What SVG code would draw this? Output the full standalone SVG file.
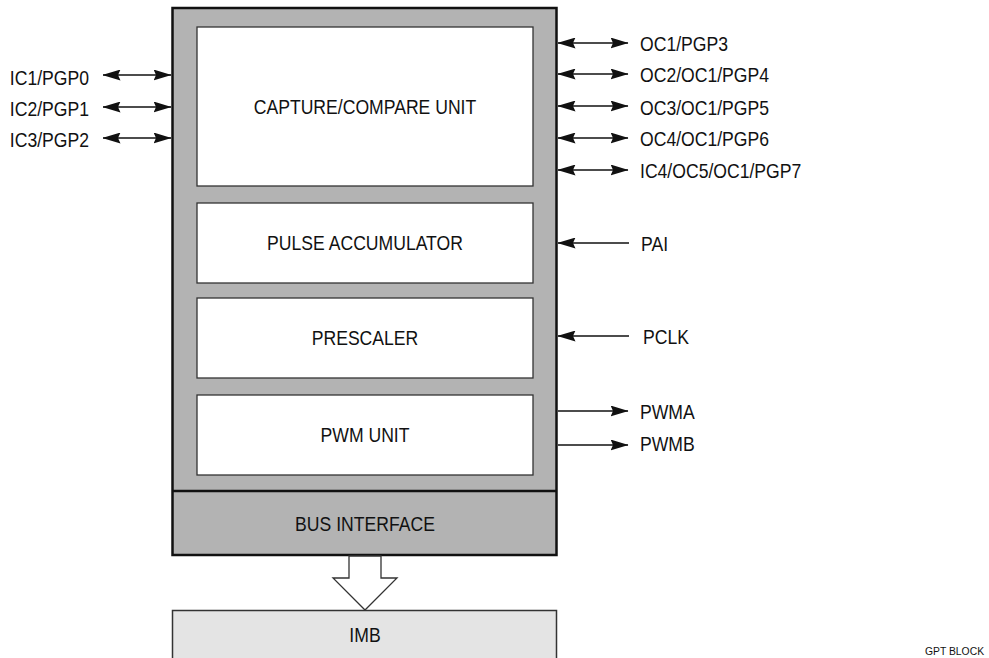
<svg xmlns="http://www.w3.org/2000/svg" width="989" height="658" viewBox="0 0 989 658">
<style>
  text { font-family: "Liberation Sans", Arial, sans-serif; font-size: 20px; fill: #111; }
  .c { text-anchor: middle; }
  .e { text-anchor: end; }
  .small { font-size: 11.5px; }
  .inner { fill: #fff; stroke: #333; stroke-width: 1.3; }
  .wire { stroke: #111; stroke-width: 1.4; fill: none; }
</style>
<defs>
  <marker id="ah" viewBox="0 0 18 11" refX="17.5" refY="5.5" markerWidth="18" markerHeight="11" markerUnits="userSpaceOnUse" orient="auto-start-reverse">
    <path d="M0,0 L18,5.5 L0,11 L2.5,5.5 z" fill="#111"/>
  </marker>
</defs>

<g id="gpt">
  <rect x="172.5" y="8" width="384" height="547" fill="#b3b3b3" stroke="#111" stroke-width="2.5"/>
</g>
<g id="bus-interface">
  <line x1="172.5" y1="491" x2="556.5" y2="491" stroke="#111" stroke-width="2.5"/>
  <text class="c" transform="translate(365,531) scale(0.88,1)">BUS INTERFACE</text>
</g>
<g id="capture-compare">
  <rect class="inner" x="197" y="27" width="336" height="159"/>
  <text class="c" transform="translate(365,114) scale(0.88,1)">CAPTURE/COMPARE UNIT</text>
</g>
<g id="pulse-accumulator">
  <rect class="inner" x="197" y="203" width="336" height="80"/>
  <text class="c" transform="translate(365,250) scale(0.88,1)">PULSE ACCUMULATOR</text>
</g>
<g id="prescaler">
  <rect class="inner" x="197" y="298" width="336" height="80"/>
  <text class="c" transform="translate(365,345) scale(0.88,1)">PRESCALER</text>
</g>
<g id="pwm-unit">
  <rect class="inner" x="197" y="395" width="336" height="80"/>
  <text class="c" transform="translate(365,442) scale(0.88,1)">PWM UNIT</text>
</g>
<g id="imb">
  <rect x="172.5" y="610.5" width="384" height="60" fill="#e4e4e4" stroke="#333" stroke-width="1.5"/>
  <text class="c" transform="translate(365,642) scale(0.88,1)">IMB</text>
</g>

<g id="connectors">
  <polygon points="349,556 349,578 333,578 365,610 397,578 381,578 381,556" fill="#fff" stroke="#333" stroke-width="1.3"/>
  <line class="wire" x1="103" y1="75" x2="171" y2="75" marker-start="url(#ah)" marker-end="url(#ah)"/>
  <line class="wire" x1="103" y1="107" x2="171" y2="107" marker-start="url(#ah)" marker-end="url(#ah)"/>
  <line class="wire" x1="103" y1="138" x2="171" y2="138" marker-start="url(#ah)" marker-end="url(#ah)"/>
  <line class="wire" x1="558" y1="43" x2="628" y2="43" marker-start="url(#ah)" marker-end="url(#ah)"/>
  <line class="wire" x1="558" y1="74" x2="628" y2="74" marker-start="url(#ah)" marker-end="url(#ah)"/>
  <line class="wire" x1="558" y1="106" x2="628" y2="106" marker-start="url(#ah)" marker-end="url(#ah)"/>
  <line class="wire" x1="558" y1="138" x2="628" y2="138" marker-start="url(#ah)" marker-end="url(#ah)"/>
  <line class="wire" x1="558" y1="170" x2="628" y2="170" marker-start="url(#ah)" marker-end="url(#ah)"/>
  <line class="wire" x1="629" y1="243" x2="558" y2="243" marker-end="url(#ah)"/>
  <line class="wire" x1="629" y1="336" x2="558" y2="336" marker-end="url(#ah)"/>
  <line class="wire" x1="558" y1="411" x2="628" y2="411" marker-end="url(#ah)"/>
  <line class="wire" x1="558" y1="445" x2="628" y2="445" marker-end="url(#ah)"/>
</g>

<g id="labels">
  <text class="e" transform="translate(89,85) scale(0.88,1)">IC1/PGP0</text>
  <text class="e" transform="translate(89,116) scale(0.88,1)">IC2/PGP1</text>
  <text class="e" transform="translate(89,147) scale(0.88,1)">IC3/PGP2</text>
  <text transform="translate(640,51) scale(0.88,1)">OC1/PGP3</text>
  <text transform="translate(640,82) scale(0.88,1)">OC2/OC1/PGP4</text>
  <text transform="translate(640,115) scale(0.88,1)">OC3/OC1/PGP5</text>
  <text transform="translate(640,146) scale(0.88,1)">OC4/OC1/PGP6</text>
  <text transform="translate(640,178) scale(0.88,1)">IC4/OC5/OC1/PGP7</text>
  <text transform="translate(641,251) scale(0.88,1)">PAI</text>
  <text transform="translate(643,344) scale(0.88,1)">PCLK</text>
  <text transform="translate(640,419) scale(0.88,1)">PWMA</text>
  <text transform="translate(640,451) scale(0.88,1)">PWMB</text>
  <text class="small" transform="translate(925,655) scale(0.9,1)">GPT BLOCK</text>
</g>
</svg>
